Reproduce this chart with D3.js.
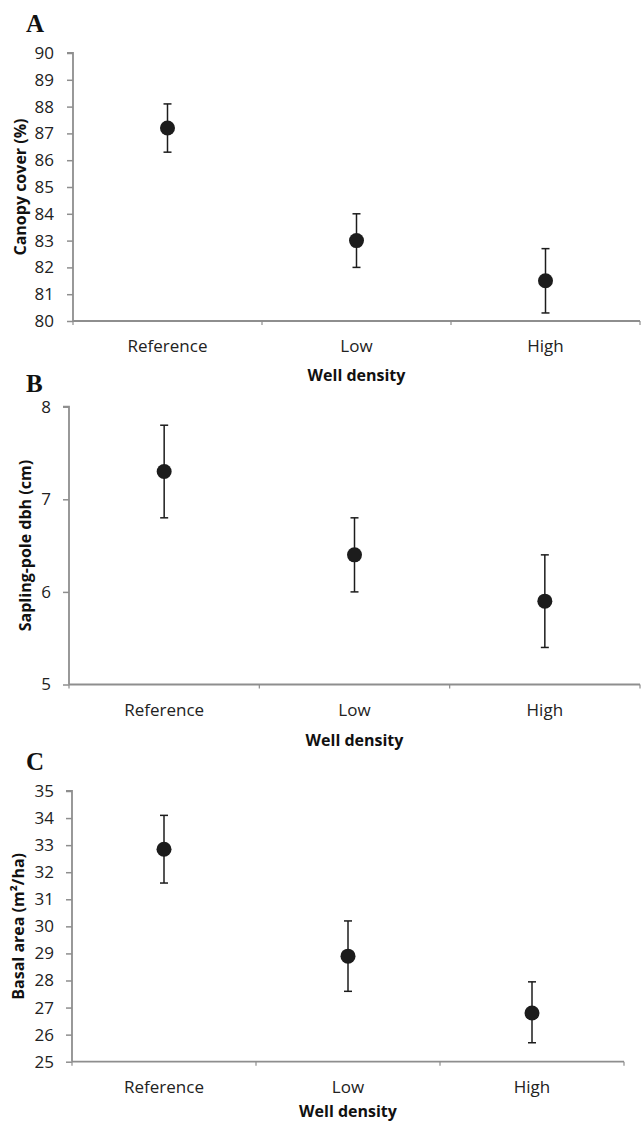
<!DOCTYPE html>
<html>
<head>
<meta charset="utf-8">
<script src="https://cdn.jsdelivr.net/npm/d3@7"></script>
<style>
  html, body { margin: 0; padding: 0; background: #fff; }
  svg { display: block; }
</style>
</head>
<body>
<svg id="chart" width="641" height="1123"></svg>
<script>
// ---- data ----
const categories = ["Reference", "Low", "High"];

const canopyMean  = [87.2, 83.0, 81.5];
const canopyUpper = [88.1, 84.0, 82.7];
const canopyLower = [86.3, 82.0, 80.3];
const canopyTicks = [80, 81, 82, 83, 84, 85, 86, 87, 88, 89, 90];

const dbhMean  = [7.3, 6.4, 5.9];
const dbhUpper = [7.8, 6.8, 6.4];
const dbhLower = [6.8, 6.0, 5.4];
const dbhTicks = [5, 6, 7, 8];

const basalMean  = [32.85, 28.9, 26.8];
const basalUpper = [34.1, 30.2, 27.95];
const basalLower = [31.6, 27.6, 25.7];
const basalTicks = [25, 26, 27, 28, 29, 30, 31, 32, 33, 34, 35];

const panelLetters = ["A", "B", "C"];
const yTitles = ["Canopy cover (%)", "Sapling-pole dbh (cm)", "Basal area (m\u00B2/ha)"];
const xTitle = "Well density";

// ---- layout ----
const panels = [
  { letter: panelLetters[0], title: yTitles[0], mean: canopyMean, upper: canopyUpper, lower: canopyLower, ticks: canopyTicks,
    x0: 73, x1: 640, yTop: 53, yBot: 321, letterY: 32, titleX: 20, tickLblRight: 54, xLblDy: 31, xTitleDy: 60 },
  { letter: panelLetters[1], title: yTitles[1], mean: dbhMean, upper: dbhUpper, lower: dbhLower, ticks: dbhTicks,
    x0: 69, x1: 640, yTop: 406.7, yBot: 684.5, letterY: 392, titleX: 25, tickLblRight: 51, xLblDy: 31.5, xTitleDy: 61 },
  { letter: panelLetters[2], title: yTitles[2], mean: basalMean, upper: basalUpper, lower: basalLower, ticks: basalTicks,
    x0: 72, x1: 624, yTop: 791, yBot: 1061.7, letterY: 770, titleX: 18, tickLblRight: 54, xLblDy: 31.5, xTitleDy: 55 }
];

const svg = d3.select("#chart");
const axisColor = "#8e8e8e";
const inkColor = "#1c1c1c";
const font = "'Open Sans', sans-serif";

panels.forEach((p) => {
  const g = svg.append("g");
  const x = d3.scaleBand().domain(categories).range([p.x0, p.x1]).padding(0);
  const y = d3.scaleLinear().domain([p.ticks[0], p.ticks[p.ticks.length - 1]]).range([p.yBot, p.yTop]);

  // y axis
  const yAxis = d3.axisLeft(y).tickValues(p.ticks).tickSize(6).tickPadding(p.x0 - 6 - p.tickLblRight).tickFormat(d3.format("d"));
  const ya = g.append("g").attr("transform", `translate(${p.x0},0)`).call(yAxis);
  ya.select(".domain").attr("stroke", axisColor).attr("stroke-width", 1.8).attr("d", `M-6,${p.yTop}H0V${p.yBot}`);
  ya.selectAll(".tick line").attr("stroke", axisColor).attr("stroke-width", 1.5);
  ya.selectAll(".tick text").attr("fill", "#222").style("font-family", font).style("font-size", "17px");

  // x axis
  const xa = g.append("g").attr("transform", `translate(0,${p.yBot})`);
  xa.append("line").attr("x1", p.x0).attr("x2", p.x1).attr("y1", 0).attr("y2", 0)
    .attr("stroke", axisColor).attr("stroke-width", 1.8);
  const bounds = categories.map(c => x(c)).concat([p.x1]);
  xa.selectAll("line.bt").data(bounds).enter().append("line").attr("class", "bt")
    .attr("x1", d => d).attr("x2", d => d).attr("y1", 0).attr("y2", 4)
    .attr("stroke", axisColor).attr("stroke-width", 1.2);
  xa.selectAll("text.xl").data(categories).enter().append("text").attr("class", "xl")
    .attr("x", d => x(d) + x.bandwidth() / 2).attr("y", p.xLblDy)
    .attr("text-anchor", "middle").attr("fill", "#222")
    .style("font-family", font).style("font-size", "17px").text(d => d);
  xa.append("text").attr("x", (p.x0 + p.x1) / 2).attr("y", p.xTitleDy)
    .attr("text-anchor", "middle").attr("fill", "#111")
    .style("font-family", font).style("font-size", "16px").style("font-weight", "bold").text(xTitle);

  // y title
  g.append("text")
    .attr("transform", `translate(${p.titleX},${(p.yTop + p.yBot) / 2}) rotate(-90)`)
    .attr("text-anchor", "middle").attr("dominant-baseline", "central").attr("fill", "#111")
    .style("font-family", font).style("font-size", "16px").style("font-weight", "bold")
    .text(p.title);

  // panel letter
  g.append("text").attr("x", 26).attr("y", p.letterY).attr("fill", "#111")
    .style("font-family", "'Liberation Serif', 'DejaVu Serif', serif").style("font-size", "25px").style("font-weight", "bold")
    .text(p.letter);

  // error bars and points
  const data = categories.map((c, i) => ({ c, m: p.mean[i], hi: p.upper[i], lo: p.lower[i] }));
  const cx = d => x(d.c) + x.bandwidth() / 2;
  const eb = g.append("g");
  eb.selectAll("line.v").data(data).enter().append("line")
    .attr("x1", cx).attr("x2", cx).attr("y1", d => y(d.hi)).attr("y2", d => y(d.lo))
    .attr("stroke", inkColor).attr("stroke-width", 1.5);
  ["hi", "lo"].forEach(k => {
    eb.selectAll("line.c" + k).data(data).enter().append("line")
      .attr("x1", d => cx(d) - 4).attr("x2", d => cx(d) + 4)
      .attr("y1", d => y(d[k])).attr("y2", d => y(d[k]))
      .attr("stroke", inkColor).attr("stroke-width", 1.5);
  });
  g.selectAll("circle").data(data).enter().append("circle")
    .attr("cx", cx).attr("cy", d => y(d.m)).attr("r", 7.5).attr("fill", inkColor);
});
</script>
</body>
</html>
